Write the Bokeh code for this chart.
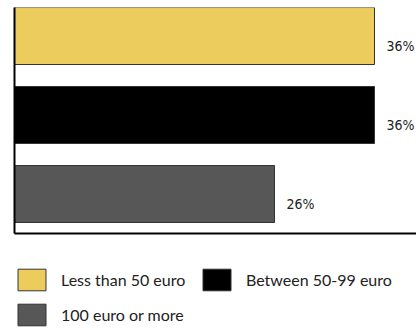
from bokeh.plotting import figure
from bokeh.layouts import column
from bokeh.models import ColumnDataSource, Range1d, Legend, LegendItem, FixedTicker
from bokeh.core.properties import value
from bokeh.embed import file_html
from bokeh.resources import INLINE

categories = ["Less than 50 euro", "Between 50-99 euro", "100 euro or more"]
values = [36, 36, 26]
labels = ["36%", "36%", "26%"]
colors = ["#EDCC5E", "#000000", "#575757"]
positions = [2, 1, 0]

p = figure(width=416, height=266, x_range=Range1d(0, 40.2), y_range=Range1d(-0.5, 2.361),
           output_backend="svg", toolbar_location=None,
           min_border_left=14, min_border_right=0, min_border_top=7, min_border_bottom=33)
p.outline_line_color = None
p.xgrid.visible = False
p.ygrid.visible = False

for ax in (p.xaxis[0], p.yaxis[0]):
    ax.ticker = FixedTicker(ticks=[])
    ax.axis_line_width = 2
    ax.axis_line_color = "black"
    ax.major_tick_line_color = None
    ax.minor_tick_line_color = None
    ax.major_label_standoff = 0
    ax.major_tick_out = 0
    ax.major_tick_in = 0

for cat, v, lab, c, pos in zip(categories, values, labels, colors, positions):
    src = ColumnDataSource(dict(y=[pos], right=[v], label=[lab]))
    p.hbar(y="y", left=0, right="right", height=0.7215, source=src,
           fill_color=c, line_color="#333333", line_width=1)
    p.text(x="right", y="y", text="label", source=src, x_offset=12, y_offset=10,
           text_baseline="alphabetic", text_align="left",
           text_font=value("DejaVu Sans Condensed"), text_font_size="14px",
           text_color="#222222")

# legend panel below the chart (its bars lie outside the visible range; only the legend shows)
lg = figure(width=416, height=63, x_range=Range1d(0, 1), y_range=Range1d(10, 11),
            output_backend="svg", toolbar_location=None,
            x_axis_type=None, y_axis_type=None,
            min_border_left=0, min_border_right=0, min_border_top=0, min_border_bottom=0)
lg.outline_line_color = None
lg.xgrid.visible = False
lg.ygrid.visible = False

legend_renderers = {}
for cat, v, c, pos in zip(categories, values, colors, positions):
    src = ColumnDataSource(dict(y=[pos], right=[v]))
    legend_renderers[cat] = lg.hbar(y="y", left=0, right="right", height=0.7215, source=src,
                                    fill_color=c, line_color="#333333", line_width=1)

order = [categories[0], categories[2], categories[1]]
items = [LegendItem(label=c, renderers=[legend_renderers[c]]) for c in order]

legend = Legend(items=items, ncols=2, location="top_left",
                glyph_width=35, glyph_height=27, label_standoff=12, label_width=130,
                spacing=8, padding=4, margin=0,
                label_text_font="Lato", label_text_font_size="16px",
                label_text_color="#222222", border_line_color=None,
                background_fill_alpha=0)
lg.add_layout(legend, "center")

layout = column(p, lg, spacing=0)
open("out.html", "w").write(file_html(layout, INLINE))
